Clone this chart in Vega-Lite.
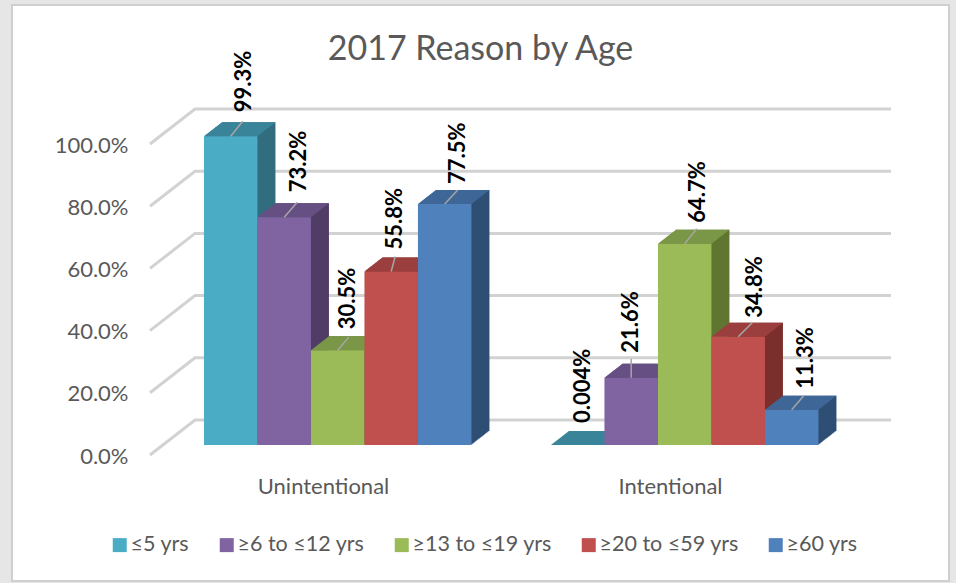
{"$schema":"https://vega.github.io/schema/vega-lite/v6.json","width":937,"height":576,"autosize":"none","padding":{"left":12,"top":5,"right":7,"bottom":2},"background":"#e6e6e6","view":{"fill":"#ffffff","stroke":"#cfcfcf","strokeWidth":2},
"title":{"text":"2017 Reason by Age","anchor":"middle","frame":"group","font":"Lato","fontSize":34,"fontWeight":"normal","color":"#595959","dy":66},
"config":{"font":"Lato"},
"datasets":{"bars":[
{"reason":"Unintentional","age":"≤5 yrs","value":0.993,"label":"99.3%"},
{"reason":"Unintentional","age":"≥6 to ≤12 yrs","value":0.732,"label":"73.2%"},
{"reason":"Unintentional","age":"≥13 to ≤19 yrs","value":0.305,"label":"30.5%"},
{"reason":"Unintentional","age":"≥20 to ≤59 yrs","value":0.558,"label":"55.8%"},
{"reason":"Unintentional","age":"≥60 yrs","value":0.775,"label":"77.5%"},
{"reason":"Intentional","age":"≤5 yrs","value":0.00004,"label":"0.004%"},
{"reason":"Intentional","age":"≥6 to ≤12 yrs","value":0.216,"label":"21.6%"},
{"reason":"Intentional","age":"≥13 to ≤19 yrs","value":0.647,"label":"64.7%"},
{"reason":"Intentional","age":"≥20 to ≤59 yrs","value":0.348,"label":"34.8%"},
{"reason":"Intentional","age":"≥60 yrs","value":0.113,"label":"11.3%"}],
"grid":[{"tick":0},{"tick":0.2},{"tick":0.4},{"tick":0.6},{"tick":0.8},{"tick":1}]},
"data":{"name":"bars"},
"layer":[
{"data":{"name":"grid"},"mark":{"type":"point","shape":"M-14.2,0L30.8,-35L726.8,-35","filled":false,"stroke":"#d2d2d2","strokeWidth":3,"size":4,"opacity":1},
"encoding":{"x":{"datum":"Unintentional","bandPosition":0,"type":"nominal","scale":{"domain":["Unintentional","Intentional"],"range":[152.2,846.2],"paddingInner":0,"paddingOuter":0}},"y":{"field":"tick","type":"quantitative","scale":{"domain":[0,1],"range":[450,139]}}}},
{"encoding":{
"x":{"field":"reason","type":"nominal","sort":["Unintentional","Intentional"],"title":null,"scale":{"domain":["Unintentional","Intentional"],"range":[152.2,846.2],"paddingInner":0,"paddingOuter":0},"axis":{"orient":"bottom","offset":-105,"labelPadding":0,"labelOffset":-14.2,"labelAngle":0,"labelAlign":"center","domain":false,"ticks":false,"labelFont":"Lato","labelFontSize":22,"labelColor":"#595959","labelBaseline":"top"}},
"y":{"field":"value","type":"quantitative","title":null,"scale":{"domain":[0,1],"range":[450,139]},"axis":{"orient":"left","values":[0,0.2,0.4,0.6,0.8,1],"format":".1%","offset":-120,"labelPadding":4,"labelOffset":1,"domain":false,"ticks":false,"grid":false,"labelFont":"Lato","labelFontSize":22,"labelColor":"#595959"}},
"xOffset":{"field":"age","type":"nominal","sort":null,"scale":{"type":"band","domain":["≤5 yrs","≥6 to ≤12 yrs","≥13 to ≤19 yrs","≥20 to ≤59 yrs","≥60 yrs"],"paddingInner":0,"paddingOuter":0.743,"range":[0,347]}}},
"resolve":{"scale":{"color":"independent","xOffset":"independent"}},
"layer":[
{"encoding":{"color":{"field":"age","type":"nominal","legend":null,"sort":null,"scale":{"domain":["≤5 yrs","≥6 to ≤12 yrs","≥13 to ≤19 yrs","≥20 to ≤59 yrs","≥60 yrs"],"range":["#316d7e","#4f3d66","#5f7530","#7a2f2d","#2f4e74"]}}},
"resolve":{"scale":{"xOffset":"independent"}},
"layer":[
{"mark":{"type":"bar","yOffset":-10.8},"encoding":{"xOffset":{"field":"age","type":"nominal","sort":null,"scale":{"type":"band","domain":["≤5 yrs","≥6 to ≤12 yrs","≥13 to ≤19 yrs","≥20 to ≤59 yrs","≥60 yrs"],"paddingInner":0,"paddingOuter":0.743,"range":[1,348]}}}},
{"mark":{"type":"bar","yOffset":-11.6},"encoding":{"xOffset":{"field":"age","type":"nominal","sort":null,"scale":{"type":"band","domain":["≤5 yrs","≥6 to ≤12 yrs","≥13 to ≤19 yrs","≥20 to ≤59 yrs","≥60 yrs"],"paddingInner":0,"paddingOuter":0.743,"range":[2,349]}}}},
{"mark":{"type":"bar","yOffset":-12.3},"encoding":{"xOffset":{"field":"age","type":"nominal","sort":null,"scale":{"type":"band","domain":["≤5 yrs","≥6 to ≤12 yrs","≥13 to ≤19 yrs","≥20 to ≤59 yrs","≥60 yrs"],"paddingInner":0,"paddingOuter":0.743,"range":[3,350]}}}},
{"mark":{"type":"bar","yOffset":-13.1},"encoding":{"xOffset":{"field":"age","type":"nominal","sort":null,"scale":{"type":"band","domain":["≤5 yrs","≥6 to ≤12 yrs","≥13 to ≤19 yrs","≥20 to ≤59 yrs","≥60 yrs"],"paddingInner":0,"paddingOuter":0.743,"range":[4,351]}}}},
{"mark":{"type":"bar","yOffset":-13.9},"encoding":{"xOffset":{"field":"age","type":"nominal","sort":null,"scale":{"type":"band","domain":["≤5 yrs","≥6 to ≤12 yrs","≥13 to ≤19 yrs","≥20 to ≤59 yrs","≥60 yrs"],"paddingInner":0,"paddingOuter":0.743,"range":[5,352]}}}},
{"mark":{"type":"bar","yOffset":-14.7},"encoding":{"xOffset":{"field":"age","type":"nominal","sort":null,"scale":{"type":"band","domain":["≤5 yrs","≥6 to ≤12 yrs","≥13 to ≤19 yrs","≥20 to ≤59 yrs","≥60 yrs"],"paddingInner":0,"paddingOuter":0.743,"range":[6,353]}}}},
{"mark":{"type":"bar","yOffset":-15.4},"encoding":{"xOffset":{"field":"age","type":"nominal","sort":null,"scale":{"type":"band","domain":["≤5 yrs","≥6 to ≤12 yrs","≥13 to ≤19 yrs","≥20 to ≤59 yrs","≥60 yrs"],"paddingInner":0,"paddingOuter":0.743,"range":[7,354]}}}},
{"mark":{"type":"bar","yOffset":-16.2},"encoding":{"xOffset":{"field":"age","type":"nominal","sort":null,"scale":{"type":"band","domain":["≤5 yrs","≥6 to ≤12 yrs","≥13 to ≤19 yrs","≥20 to ≤59 yrs","≥60 yrs"],"paddingInner":0,"paddingOuter":0.743,"range":[8,355]}}}},
{"mark":{"type":"bar","yOffset":-17},"encoding":{"xOffset":{"field":"age","type":"nominal","sort":null,"scale":{"type":"band","domain":["≤5 yrs","≥6 to ≤12 yrs","≥13 to ≤19 yrs","≥20 to ≤59 yrs","≥60 yrs"],"paddingInner":0,"paddingOuter":0.743,"range":[9,356]}}}},
{"mark":{"type":"bar","yOffset":-17.8},"encoding":{"xOffset":{"field":"age","type":"nominal","sort":null,"scale":{"type":"band","domain":["≤5 yrs","≥6 to ≤12 yrs","≥13 to ≤19 yrs","≥20 to ≤59 yrs","≥60 yrs"],"paddingInner":0,"paddingOuter":0.743,"range":[10,357]}}}},
{"mark":{"type":"bar","yOffset":-18.6},"encoding":{"xOffset":{"field":"age","type":"nominal","sort":null,"scale":{"type":"band","domain":["≤5 yrs","≥6 to ≤12 yrs","≥13 to ≤19 yrs","≥20 to ≤59 yrs","≥60 yrs"],"paddingInner":0,"paddingOuter":0.743,"range":[11,358]}}}},
{"mark":{"type":"bar","yOffset":-19.3},"encoding":{"xOffset":{"field":"age","type":"nominal","sort":null,"scale":{"type":"band","domain":["≤5 yrs","≥6 to ≤12 yrs","≥13 to ≤19 yrs","≥20 to ≤59 yrs","≥60 yrs"],"paddingInner":0,"paddingOuter":0.743,"range":[12,359]}}}},
{"mark":{"type":"bar","yOffset":-20.1},"encoding":{"xOffset":{"field":"age","type":"nominal","sort":null,"scale":{"type":"band","domain":["≤5 yrs","≥6 to ≤12 yrs","≥13 to ≤19 yrs","≥20 to ≤59 yrs","≥60 yrs"],"paddingInner":0,"paddingOuter":0.743,"range":[13,360]}}}},
{"mark":{"type":"bar","yOffset":-20.9},"encoding":{"xOffset":{"field":"age","type":"nominal","sort":null,"scale":{"type":"band","domain":["≤5 yrs","≥6 to ≤12 yrs","≥13 to ≤19 yrs","≥20 to ≤59 yrs","≥60 yrs"],"paddingInner":0,"paddingOuter":0.743,"range":[14,361]}}}},
{"mark":{"type":"bar","yOffset":-21.7},"encoding":{"xOffset":{"field":"age","type":"nominal","sort":null,"scale":{"type":"band","domain":["≤5 yrs","≥6 to ≤12 yrs","≥13 to ≤19 yrs","≥20 to ≤59 yrs","≥60 yrs"],"paddingInner":0,"paddingOuter":0.743,"range":[15,362]}}}},
{"mark":{"type":"bar","yOffset":-22.4},"encoding":{"xOffset":{"field":"age","type":"nominal","sort":null,"scale":{"type":"band","domain":["≤5 yrs","≥6 to ≤12 yrs","≥13 to ≤19 yrs","≥20 to ≤59 yrs","≥60 yrs"],"paddingInner":0,"paddingOuter":0.743,"range":[16,363]}}}},
{"mark":{"type":"bar","yOffset":-23.2},"encoding":{"xOffset":{"field":"age","type":"nominal","sort":null,"scale":{"type":"band","domain":["≤5 yrs","≥6 to ≤12 yrs","≥13 to ≤19 yrs","≥20 to ≤59 yrs","≥60 yrs"],"paddingInner":0,"paddingOuter":0.743,"range":[17,364]}}}},
{"mark":{"type":"bar","yOffset":-24},"encoding":{"xOffset":{"field":"age","type":"nominal","sort":null,"scale":{"type":"band","domain":["≤5 yrs","≥6 to ≤12 yrs","≥13 to ≤19 yrs","≥20 to ≤59 yrs","≥60 yrs"],"paddingInner":0,"paddingOuter":0.743,"range":[18,365]}}}}
]},
{"mark":{"type":"point","filled":true,"opacity":1,"size":4,"shape":"M-26.75,0L26.75,0L44.75,-14L-8.75,-14Z","yOffset":-10},
"encoding":{"color":{"field":"age","type":"nominal","legend":null,"sort":null,"scale":{"domain":["≤5 yrs","≥6 to ≤12 yrs","≥13 to ≤19 yrs","≥20 to ≤59 yrs","≥60 yrs"],"range":["#3a8499","#664f82","#7a9647","#9a3f3d","#3e6696"]}}}},
{"mark":{"type":"bar","yOffset":-10},
"encoding":{"color":{"field":"age","type":"nominal","sort":null,"title":null,"scale":{"domain":["≤5 yrs","≥6 to ≤12 yrs","≥13 to ≤19 yrs","≥20 to ≤59 yrs","≥60 yrs"],"range":["#4bacc6","#8064a2","#9bbb59","#c0504d","#4f81bd"]},
"legend":{"orient":"none","legendX":97,"legendY":529,"direction":"horizontal","columns":5,"symbolType":"square","symbolSize":196,"symbolStrokeWidth":0,"labelFont":"Lato","labelFontSize":21.5,"labelColor":"#595959","labelOffset":0,"columnPadding":26,"padding":0,"title":null}}}},
{"transform":[{"filter":"datum.label==='99.3%'"}],"layer":[{"mark":{"type":"point","filled":false,"opacity":1,"size":4,"shape":"M0,0L12,-15","stroke":"#a6a6a6","strokeWidth":1.5,"yOffset":-10}},{"mark":{"type":"text","angle":270,"align":"left","baseline":"middle","font":"Lato","fontWeight":"bold","fontSize":22,"color":"#000000","dy":13,"yOffset":-34},"encoding":{"text":{"field":"label"}}}]},
{"transform":[{"filter":"datum.label==='73.2%'"}],"layer":[{"mark":{"type":"point","filled":false,"opacity":1,"size":4,"shape":"M0,0L13,-15","stroke":"#a6a6a6","strokeWidth":1.5,"yOffset":-10}},{"mark":{"type":"text","angle":270,"align":"left","baseline":"middle","font":"Lato","fontWeight":"bold","fontSize":22,"color":"#000000","dy":15,"yOffset":-35},"encoding":{"text":{"field":"label"}}}]},
{"transform":[{"filter":"datum.label==='30.5%'"}],"layer":[{"mark":{"type":"point","filled":false,"opacity":1,"size":4,"shape":"M0,0L11,-13","stroke":"#a6a6a6","strokeWidth":1.5,"yOffset":-10}},{"mark":{"type":"text","angle":270,"align":"left","baseline":"middle","font":"Lato","fontWeight":"bold","fontSize":22,"color":"#000000","dy":10.5,"yOffset":-31},"encoding":{"text":{"field":"label"}}}]},
{"transform":[{"filter":"datum.label==='55.8%'"}],"layer":[{"mark":{"type":"point","filled":false,"opacity":1,"size":4,"shape":"M0,0L4,-15","stroke":"#a6a6a6","strokeWidth":1.5,"yOffset":-10}},{"mark":{"type":"text","angle":270,"align":"left","baseline":"middle","font":"Lato","fontWeight":"bold","fontSize":22,"color":"#000000","dy":4,"yOffset":-32},"encoding":{"text":{"field":"label"}}}]},
{"transform":[{"filter":"datum.label==='77.5%'"}],"layer":[{"mark":{"type":"point","filled":false,"opacity":1,"size":4,"shape":"M0,0L13,-14","stroke":"#a6a6a6","strokeWidth":1.5,"yOffset":-10}},{"mark":{"type":"text","angle":270,"align":"left","baseline":"middle","font":"Lato","fontWeight":"bold","fontSize":22,"color":"#000000","dy":13.5,"yOffset":-30},"encoding":{"text":{"field":"label"}}}]},
{"transform":[{"filter":"datum.label==='0.004%'"}],"mark":{"type":"text","angle":270,"align":"left","baseline":"middle","font":"Lato","fontWeight":"bold","fontSize":22,"color":"#000000","dy":5,"yOffset":-32},"encoding":{"text":{"field":"label"}}},
{"transform":[{"filter":"datum.label==='21.6%'"}],"layer":[{"mark":{"type":"point","filled":false,"opacity":1,"size":4,"shape":"M0,0L0,-19","stroke":"#a6a6a6","strokeWidth":1.5,"yOffset":-10}},{"mark":{"type":"text","angle":270,"align":"left","baseline":"middle","font":"Lato","fontWeight":"bold","fontSize":22,"color":"#000000","dy":0,"yOffset":-35},"encoding":{"text":{"field":"label"}}}]},
{"transform":[{"filter":"datum.label==='64.7%'"}],"layer":[{"mark":{"type":"point","filled":false,"opacity":1,"size":4,"shape":"M0,0L12,-15","stroke":"#a6a6a6","strokeWidth":1.5,"yOffset":-10}},{"mark":{"type":"text","angle":270,"align":"left","baseline":"middle","font":"Lato","fontWeight":"bold","fontSize":22,"color":"#000000","dy":13,"yOffset":-31},"encoding":{"text":{"field":"label"}}}]},
{"transform":[{"filter":"datum.label==='34.8%'"}],"layer":[{"mark":{"type":"point","filled":false,"opacity":1,"size":4,"shape":"M0,0L14,-14","stroke":"#a6a6a6","strokeWidth":1.5,"yOffset":-10}},{"mark":{"type":"text","angle":270,"align":"left","baseline":"middle","font":"Lato","fontWeight":"bold","fontSize":22,"color":"#000000","dy":16.5,"yOffset":-29},"encoding":{"text":{"field":"label"}}}]},
{"transform":[{"filter":"datum.label==='11.3%'"}],"layer":[{"mark":{"type":"point","filled":false,"opacity":1,"size":4,"shape":"M0,0L12,-14","stroke":"#a6a6a6","strokeWidth":1.5,"yOffset":-10}},{"mark":{"type":"text","angle":270,"align":"left","baseline":"middle","font":"Lato","fontWeight":"bold","fontSize":22,"color":"#000000","dy":14,"yOffset":-31},"encoding":{"text":{"field":"label"}}}]}
]}
]}
